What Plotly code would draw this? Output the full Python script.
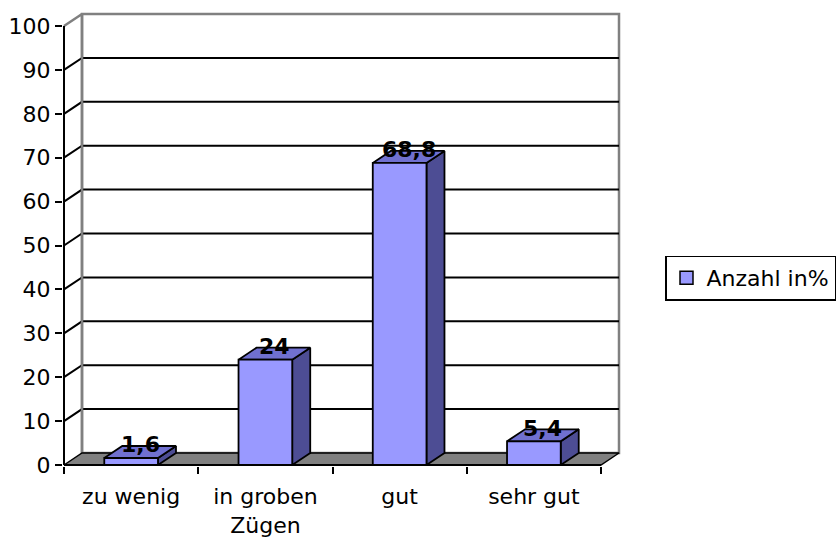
import plotly.graph_objects as go

# ---- data ----
categories = ["zu wenig", "in groben<br>Zügen", "gut", "sehr gut"]
values = [1.6, 24, 68.8, 5.4]
series_name = "Anzahl in%"
y_ticks = [0, 10, 20, 30, 40, 50, 60, 70, 80, 90, 100]

# ---- geometry / style constants ----
W, H = 836, 541
UX = 134.25          # px per category unit
UY = 4.39            # px per value unit
ML, MR, MT, MB = 63, 206, 8, 75
DX = 18 / UX         # depth offset (x, data units)
DY = 12 / UY         # depth offset (y, data units)
HALF = 0.2           # half bar width (gap width 150%)
FONT = "DejaVu Sans"
FS = 22
FRONT, TOP, SIDE = "#9999FF", "#7070D0", "#4D4D94"
GRAY = "#808080"

n = len(categories)
ymax_val = max(y_ticks)
plot_w = W - ML - MR
plot_h = H - MT - MB
xmin = -1 / UX
xmax = xmin + plot_w / UX
ymin = -1 / UY
ymax = ymin + plot_h / UY

fig = go.Figure()

def poly(xs, ys, fill, line_color, lw):
    fig.add_trace(go.Scatter(x=xs, y=ys, mode="lines", fill="toself" if fill else None,
                             fillcolor=fill, line=dict(color=line_color, width=lw),
                             hoverinfo="skip", showlegend=False))

# back wall
poly([DX, n + DX, n + DX, DX, DX], [DY, DY, ymax_val + DY, ymax_val + DY, DY], "white", GRAY, 2.5)

# gridlines (side wall diagonal + back wall)
gx, gy = [], []
for v in y_ticks[1:-1]:
    gx += [0, DX, n + DX, None]
    gy += [v, v + DY, v + DY, None]
fig.add_trace(go.Scatter(x=gx, y=gy, mode="lines", line=dict(color="black", width=2),
                         hoverinfo="skip", showlegend=False))

# side wall top edge + back-left edge
fig.add_trace(go.Scatter(x=[0, DX, DX], y=[ymax_val, ymax_val + DY, DY], mode="lines",
                         line=dict(color=GRAY, width=2.5), hoverinfo="skip", showlegend=False))

# floor
poly([0, n, n + DX, DX, 0], [0, 0, DY, DY, 0], GRAY, "black", 1.5)

# axis lines
fig.add_trace(go.Scatter(x=[0, 0, None, 0, n], y=[ymax_val, 0, None, 0, 0], mode="lines",
                         line=dict(color="black", width=2), hoverinfo="skip", showlegend=False))

# bars
fx, fy, tx, ty, sx, sy = [], [], [], [], [], []
for i, v in enumerate(values):
    c = i + 0.5
    l, r = c - HALF, c + HALF
    fx += [l, r, r, l, l, None]; fy += [0, 0, v, v, 0, None]
    tx += [l, r, r + DX, l + DX, l, None]; ty += [v, v, v + DY, v + DY, v, None]
    sx += [r, r + DX, r + DX, r, r, None]; sy += [0, DY, v + DY, v, 0, None]
poly(sx, sy, SIDE, "black", 1.8)
poly(tx, ty, TOP, "black", 1.8)
poly(fx, fy, FRONT, "black", 1.8)

# legend entry
fig.add_trace(go.Scatter(x=[None], y=[None], mode="markers", name=series_name,
                         marker=dict(symbol="square", size=13, color=FRONT,
                                     line=dict(color="black", width=1.5))))

# data labels
def fmt(v):
    return f"{v:g}".replace(".", ",")

for i, v in enumerate(values):
    fig.add_annotation(x=i + 0.5 + DX / 2, y=v + DY / 2, text=f"<b>{fmt(v)}</b>",
                       showarrow=False, yshift=7,
                       font=dict(family=FONT, size=FS, color="black"))

fig.update_layout(
    width=W, height=H,
    margin=dict(l=ML, r=MR, t=MT, b=MB, autoexpand=False),
    paper_bgcolor="white", plot_bgcolor="white",
    showlegend=True,
    legend=dict(x=(836 - ML) / plot_w, xanchor="right",
                y=(H - MB - 278) / plot_h, yanchor="middle",
                bordercolor="black", borderwidth=1.5, bgcolor="white",
                font=dict(family=FONT, size=FS, color="black"),
                itemclick=False, itemdoubleclick=False),
    font=dict(family=FONT, size=FS, color="black"),
)
fig.update_xaxes(range=[xmin, xmax], showgrid=False, zeroline=False, showline=False,
                 tickmode="array", tickvals=[i + 0.5 for i in range(n)], ticktext=categories,
                 ticks="", tickfont=dict(family=FONT, size=FS, color="black"),
                 ticklabelstandoff=15,
                 minor=dict(tickmode="linear", tick0=0, dtick=1, ticks="outside",
                            ticklen=7, tickwidth=2, tickcolor="black", showgrid=False),
                 fixedrange=True, automargin=False)
fig.update_yaxes(range=[ymin, ymax], showgrid=False, zeroline=False, showline=False,
                 tickmode="array", tickvals=y_ticks, ticktext=[str(t) for t in y_ticks],
                 ticks="outside", ticklen=7, tickwidth=2, tickcolor="black",
                 tickfont=dict(family=FONT, size=FS, color="black"),
                 fixedrange=True, automargin=False)

fig.write_html("out.html", config={"displayModeBar": False},
               post_script="document.body.style.margin='0';")
